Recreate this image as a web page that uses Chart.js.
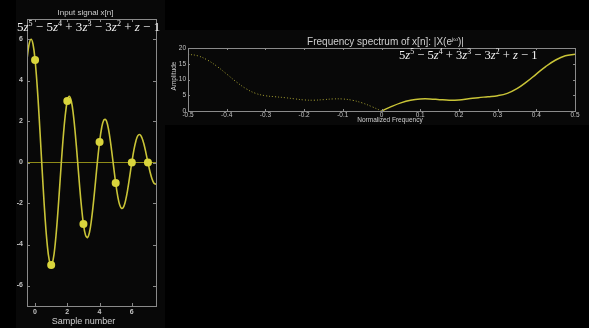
<!DOCTYPE html>
<html>
<head>
<meta charset="utf-8">
<script src="https://cdn.jsdelivr.net/npm/chart.js@4/dist/chart.umd.min.js"></script>
<style>
  html, body { margin:0; padding:0; background:#000; width:589px; height:328px; overflow:hidden; }
  body { position:relative; font-family:"Liberation Sans", Arial, sans-serif; }
  .panel { position:absolute; background:#080808; }
  canvas { position:absolute; }
  .txt { position:absolute; color:#cfcfcf; white-space:nowrap; line-height:1; }
  .formula { position:absolute; color:#f2f2f2; white-space:nowrap; font-family:"Liberation Serif","Times New Roman",serif; line-height:1; }
  .formula i { font-style:italic; }
  .formula sup { font-size:0.62em; vertical-align:0.62em; line-height:0; }
</style>
</head>
<body>
<div class="panel" style="left:16px;top:0;width:149px;height:328px;"></div>
<div class="panel" style="left:165px;top:30px;width:424px;height:95px;"></div>
<canvas id="sig" width="170" height="328" style="left:0;top:0;width:170px;height:328px;"></canvas>
<canvas id="spec" width="424" height="100" style="left:165px;top:30px;width:424px;height:100px;"></canvas>

<div class="txt" style="left:85.5px;top:8.5px;font-size:8px;transform:translateX(-50%);">Input signal x[n]</div>
<div class="formula" style="left:17px;top:19.5px;font-size:13px;">5<i>z</i><sup>5</sup> − 5<i>z</i><sup>4</sup> + 3<i>z</i><sup>3</sup> − 3<i>z</i><sup>2</sup> + <i>z</i> − 1</div>
<div class="txt" style="left:83.5px;top:316.5px;font-size:9px;transform:translateX(-50%);">Sample number</div>

<div class="txt" style="left:385.5px;top:36.5px;font-size:10px;transform:translateX(-50%);">Frequency spectrum of x[n]: |X(e<sup style="font-size:6px;vertical-align:4px;line-height:0;">jω</sup>)|</div>
<div class="formula" style="left:399px;top:48.5px;font-size:12.6px;">5<i>z</i><sup>5</sup> − 5<i>z</i><sup>4</sup> + 3<i>z</i><sup>3</sup> − 3<i>z</i><sup>2</sup> + <i>z</i> − 1</div>
<div class="txt" style="left:390px;top:116.5px;font-size:6.5px;transform:translateX(-50%);">Normalized Frequency</div>
<div class="txt" style="left:174px;top:76px;font-size:6.5px;transform:translate(-50%,-50%) rotate(-90deg);">Amplitude</div>

<script>
// ---- Input signal data ----
const sampleIndex = [0, 1, 2, 3, 4, 5, 6, 7];
const sampleValues = [5, -5, 3, -3, 1, -1, 0, 0];

// continuous (band-limited) reconstruction, read at steps of 0.125
const curveT = [-0.5,-0.375,-0.25,-0.125,0,0.125,0.25,0.375,0.5,0.625,0.75,0.875,1,
  1.125,1.25,1.375,1.5,1.625,1.75,1.875,2,2.125,2.25,2.375,2.5,2.625,2.75,2.875,3,
  3.125,3.25,3.375,3.5,3.625,3.75,3.875,4,4.125,4.25,4.375,4.5,4.625,4.75,4.875,5,
  5.125,5.25,5.375,5.5,5.625,5.75,5.875,6,6.125,6.25,6.375,6.5,6.625,6.75,6.875,7,
  7.125,7.25,7.375,7.5];
const curveValues = [5.03,5.75,6.01,5.76,5.00,3.80,2.26,0.54,-1.18,-2.74,-3.96,-4.74,-5.00,
  -4.73,-3.97,-2.84,-1.48,-0.05,1.27,2.32,3.00,3.23,2.99,2.34,1.36,0.19,-1.03,-2.13,-3.00,
  -3.53,-3.66,-3.40,-2.79,-1.92,-0.92,0.10,1.00,1.67,2.05,2.10,1.83,1.29,0.57,-0.23,-1.00,
  -1.64,-2.07,-2.24,-2.15,-1.81,-1.29,-0.65,0.00,0.59,1.04,1.31,1.36,1.21,0.90,0.47,0.00,
  -0.44,-0.79,-1.01,-1.06];

const sigYTicks = [-6, -4, -2, 0, 2, 4, 6];
const sigXTicks = [0, 2, 4, 6];

// ---- Spectrum data ----
const freqPos = [0,0.025,0.05,0.075,0.1,0.125,0.15,0.175,0.2,0.225,0.25,0.275,0.3,0.325,0.35,0.375,0.4,0.425,0.45,0.475,0.5];
const magPos = [0,1.38,2.57,3.40,3.81,3.83,3.61,3.43,3.52,3.87,4.24,4.53,4.85,5.59,7.08,9.24,11.73,14.17,16.19,17.53,18.00];
const freqNeg = [-0.5,-0.475,-0.45,-0.425,-0.4,-0.375,-0.35,-0.325,-0.3,-0.275,-0.25,-0.225,-0.2,-0.175,-0.15,-0.125,-0.1,-0.075,-0.05,-0.025,0];
const magNeg = [18.00,17.53,16.19,14.17,11.73,9.24,7.08,5.59,4.85,4.53,4.24,3.87,3.52,3.43,3.61,3.83,3.81,3.40,2.57,1.38,0];

const specYTicks = [0, 5, 10, 15, 20];
const specXTicks = [-0.5, -0.4, -0.3, -0.2, -0.1, 0, 0.1, 0.2, 0.3, 0.4, 0.5];
const specXLabels = ['-0.5','-0.4','-0.3','-0.2','-0.1','0','0.1','0.2','0.3','0.4','0.5'];

const LINE = '#c9c437';
const DOT = '#d9d53c';
const AXIS = '#8a8a8a';
const TICK = '#c4c4c4';

// Box with inward tick marks on all four sides
const boxPlugin = {
  id: 'box',
  afterDatasetsDraw(chart, args, opts) {
    const { ctx, chartArea: a, scales } = chart;
    ctx.save();
    ctx.strokeStyle = AXIS;
    ctx.lineWidth = 1;
    ctx.strokeRect(Math.round(a.left) + 0.5, Math.round(a.top) + 0.5,
                   Math.round(a.right - a.left), Math.round(a.bottom - a.top));
    const L = opts.len || 3;
    ctx.beginPath();
    scales.x.ticks.forEach(t => {
      const px = Math.round(scales.x.getPixelForValue(t.value)) + 0.5;
      ctx.moveTo(px, a.bottom); ctx.lineTo(px, a.bottom - L);
      ctx.moveTo(px, a.top); ctx.lineTo(px, a.top + L);
    });
    scales.y.ticks.forEach(t => {
      const py = Math.round(scales.y.getPixelForValue(t.value)) + 0.5;
      ctx.moveTo(a.left, py); ctx.lineTo(a.left + L, py);
      ctx.moveTo(a.right, py); ctx.lineTo(a.right - L, py);
    });
    ctx.stroke();
    ctx.restore();
  }
};

Chart.defaults.font.family = '"Liberation Sans", Arial, sans-serif';
Chart.defaults.color = TICK;

const toXY = (xs, ys) => xs.map((x, i) => ({ x, y: ys[i] }));

new Chart(document.getElementById('sig'), {
  type: 'line',
  data: {
    datasets: [
      { data: [{x:-0.5,y:0},{x:7.5,y:0}], borderColor: '#8e8a18', borderWidth: 1, pointRadius: 0, tension: 0, order: 3 },
      { data: toXY(curveT, curveValues), borderColor: LINE, borderWidth: 1.6, pointRadius: 0, tension: 0.4, cubicInterpolationMode: 'default', order: 2 },
      { data: toXY(sampleIndex, sampleValues), showLine: false, pointRadius: 4, pointBackgroundColor: DOT, pointBorderColor: DOT, pointBorderWidth: 0, order: 1 }
    ]
  },
  options: {
    responsive: false, animation: false, events: [],
    layout: { padding: { left: 0, top: 19, right: 14, bottom: 0 } },
    plugins: { legend: { display: false }, tooltip: { enabled: false }, box: { len: 3 } },
    scales: {
      x: {
        type: 'linear', min: -0.5, max: 7.5,
        grid: { display: false, drawTicks: false }, border: { display: false },
        afterBuildTicks: s => { s.ticks = sigXTicks.map(v => ({ value: v })); },
        ticks: { font: { size: 7, weight: 'bold' }, padding: 2, maxRotation: 0, color: TICK },
        afterFit: s => { s.height = 22; }
      },
      y: {
        type: 'linear', min: -7, max: 7,
        grid: { display: false, drawTicks: false }, border: { display: false },
        afterBuildTicks: s => { s.ticks = sigYTicks.map(v => ({ value: v })); },
        ticks: { font: { size: 7, weight: 'bold' }, padding: 4, color: TICK },
        afterFit: s => { s.width = 27; }
      }
    }
  },
  plugins: [boxPlugin]
});

new Chart(document.getElementById('spec'), {
  type: 'line',
  data: {
    datasets: [
      { data: toXY(freqNeg, magNeg), borderColor: '#a8a232', borderWidth: 1, borderDash: [1, 2], pointRadius: 0, tension: 0.4 },
      { data: toXY(freqPos, magPos), borderColor: LINE, borderWidth: 1.5, pointRadius: 0, tension: 0.4 }
    ]
  },
  options: {
    responsive: false, animation: false, events: [],
    layout: { padding: { left: 0, top: 18, right: 14, bottom: 0 } },
    plugins: { legend: { display: false }, tooltip: { enabled: false }, box: { len: 2 } },
    scales: {
      x: {
        type: 'linear', min: -0.5, max: 0.5,
        grid: { display: false, drawTicks: false }, border: { display: false },
        afterBuildTicks: s => { s.ticks = specXTicks.map(v => ({ value: v })); },
        ticks: { font: { size: 6.5 }, padding: 0, maxRotation: 0, autoSkip: false, color: TICK,
                 callback: (v, i) => specXLabels[i] },
        afterFit: s => { s.height = 19; }
      },
      y: {
        type: 'linear', min: 0, max: 20,
        grid: { display: false, drawTicks: false }, border: { display: false },
        afterBuildTicks: s => { s.ticks = specYTicks.map(v => ({ value: v })); },
        ticks: { font: { size: 6.5 }, padding: 2, color: TICK },
        afterFit: s => { s.width = 23; }
      }
    }
  },
  plugins: [boxPlugin]
});
</script>
</body>
</html>
